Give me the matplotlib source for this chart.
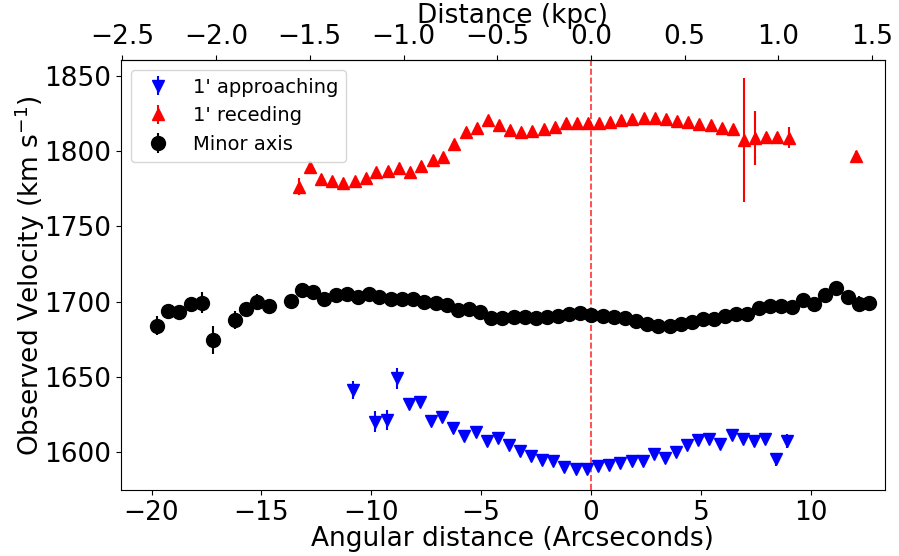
import matplotlib
matplotlib.use("Agg")
import matplotlib.pyplot as plt
import numpy as np

# DATA
# 1' approaching side
app_x = [-10.85, -9.82, -9.30, -8.82, -8.29, -7.77, -7.29, -6.77, -6.26, -5.77, -5.24, -4.73, -4.24,
         -3.73, -3.23, -2.73, -2.21, -1.71, -1.21, -0.70, -0.20, 0.30, 0.82, 1.32, 1.85, 2.35, 2.85,
         3.36, 3.85, 4.36, 4.88, 5.36, 5.88, 6.41, 6.91, 7.42, 7.92, 8.40, 8.92]
app_v = [1641.2, 1620.2, 1621.3, 1649.0, 1631.7, 1633.4, 1620.6, 1623.5, 1615.7, 1610.6, 1613.1, 1607.3,
         1609.5, 1604.7, 1600.9, 1597.3, 1594.7, 1594.2, 1590.2, 1588.5, 1588.7, 1590.7, 1591.4, 1592.5,
         1594.2, 1594.2, 1598.5, 1596.0, 1600.2, 1604.7, 1607.8, 1608.8, 1605.3, 1611.3, 1608.4, 1607.1,
         1608.6, 1595.1, 1607.3]
app_e = [5.8, 7.2, 6.9, 7.0, 2, 2, 2, 2, 2, 2, 2, 2, 2, 2, 2, 2, 2, 2, 2, 2, 2, 2, 2, 2, 2, 2, 2,
         2, 2, 2, 2, 2, 2, 2, 2, 2, 3.5, 4.4, 4.4]

# 1' receding side
rec_x = [-13.27, -12.80, -12.30, -11.77, -11.27, -10.76, -10.26, -9.79, -9.26, -8.74, -8.24, -7.73,
         -7.21, -6.73, -6.23, -5.70, -5.21, -4.71, -4.18, -3.68, -3.18, -2.67, -2.15, -1.65, -1.14,
         -0.64, -0.14, 0.38, 0.88, 1.38, 1.88, 2.41, 2.90, 3.41, 3.92, 4.42, 4.92, 5.44, 5.94, 6.45,
         6.95, 7.45, 7.97, 8.48, 9.00, 12.05]
rec_v = [1776.4, 1789.3, 1781.3, 1780.2, 1778.7, 1780.2, 1782.2, 1786.0, 1787.0, 1788.8, 1786.2, 1790.4,
         1794.1, 1796.3, 1804.8, 1812.8, 1815.6, 1821.0, 1817.6, 1814.1, 1812.6, 1813.4, 1814.6, 1816.1,
         1818.5, 1818.5, 1818.5, 1818.5, 1819.4, 1821.0, 1821.6, 1821.9, 1822.0, 1821.2, 1820.0, 1819.6,
         1818.3, 1817.2, 1815.6, 1815.0, 1807.4, 1808.6, 1809.2, 1809.6, 1809.0, 1796.8]
rec_e = [5.5, 4.4, 2, 2, 2, 2, 2, 2, 2, 2, 2, 2, 2, 2, 2, 2, 2, 2, 2, 2, 2, 2, 2, 2, 2, 2, 2, 2,
         2, 2, 2, 2, 2, 2, 2, 2, 2, 2, 2, 2, 41.0, 18.0, 2, 2, 7.0, 3.0]

# minor axis
min_x = [-19.73, -19.23, -18.73, -18.21, -17.70, -17.20, -16.18, -15.68, -15.18, -14.65, -13.65, -13.15,
         -12.65, -12.14, -11.62, -11.12, -10.62, -10.10, -9.67, -9.09, -8.59, -8.09, -7.58, -7.06,
         -6.55, -6.05, -5.55, -5.03, -4.53, -4.03, -3.51, -3.01, -2.51, -2.00, -1.50, -0.99, -0.49,
         0.01, 0.53, 1.06, 1.55, 2.03, 2.56, 3.06, 3.58, 4.08, 4.59, 5.09, 5.60, 6.12, 6.60, 7.10,
         7.64, 8.14, 8.65, 9.15, 9.64, 10.15, 10.67, 11.17, 11.68, 12.18, 12.67]
min_v = [1683.8, 1693.8, 1693.1, 1698.2, 1699.3, 1674.5, 1687.8, 1694.9, 1700.0, 1697.3, 1700.4, 1707.9,
         1706.6, 1701.7, 1704.4, 1705.3, 1703.3, 1705.3, 1703.3, 1701.7, 1701.7, 1701.7, 1700.0, 1698.9,
         1697.5, 1694.4, 1695.1, 1692.9, 1689.3, 1689.1, 1689.8, 1689.8, 1689.3, 1689.8, 1690.6, 1692.0,
         1692.4, 1691.1, 1690.4, 1690.0, 1688.9, 1687.1, 1685.1, 1684.0, 1684.0, 1685.1, 1686.6, 1688.2,
         1688.6, 1690.4, 1691.8, 1691.6, 1695.9, 1697.3, 1697.3, 1696.6, 1701.1, 1698.2, 1704.2, 1708.8,
         1702.9, 1698.4, 1698.9]
min_e = [6.3, 3, 4.4, 5.0, 7.2, 9.2, 6.0, 4.8, 5.0, 3, 3, 3, 3, 3, 3, 3, 3, 3, 3, 3, 3, 3, 3, 3,
         3, 3, 3, 3, 3, 3, 3, 3, 3, 3, 3, 3, 3, 3, 3, 3, 3, 3, 3, 3, 3, 3, 3, 3, 3, 3, 3, 3, 3, 3,
         3, 3, 3, 3, 3, 3, 3, 5.5, 3]

KPC_PER_ARCSEC = 0.1172

fig = plt.figure(figsize=(8.99, 5.56), dpi=100)
ax = fig.add_axes([0.1346, 0.1182, 0.8498, 0.7738])

ax.errorbar(app_x, app_v, yerr=app_e, fmt='v', color='blue', ms=9, elinewidth=1.5,
            capsize=0, label="1' approaching")
ax.errorbar(rec_x, rec_v, yerr=rec_e, fmt='^', color='red', ms=9, elinewidth=1.5,
            capsize=0, label="1' receding")
ax.errorbar(min_x, min_v, yerr=min_e, fmt='o', color='black', ms=10, elinewidth=1.5,
            capsize=0, label='Minor axis')
ax.axvline(0, color='red', ls='--', lw=1.2, alpha=0.8)

ax.set_xlim(-21.39, 13.38)
ax.set_ylim(1574.5, 1860.6)
ax.set_xlabel('Angular distance (Arcseconds)', fontsize=19, labelpad=0, x=0.5125)
ax.set_ylabel('Observed Velocity (km s$^{-1}$)', fontsize=19)
ax.yaxis.set_label_coords(-0.097, 0.5)
ax.tick_params(labelsize=19)

top = ax.secondary_xaxis('top', functions=(lambda x: x * KPC_PER_ARCSEC,
                                          lambda d: d / KPC_PER_ARCSEC))
top.set_xticks(np.arange(-2.5, 1.51, 0.5))
top.set_xlabel('Distance (kpc)', fontsize=19, labelpad=1, x=0.5125)
top.tick_params(labelsize=19)

ax.legend(loc='upper left', fontsize=14)

fig.savefig('out.png', dpi=100)
